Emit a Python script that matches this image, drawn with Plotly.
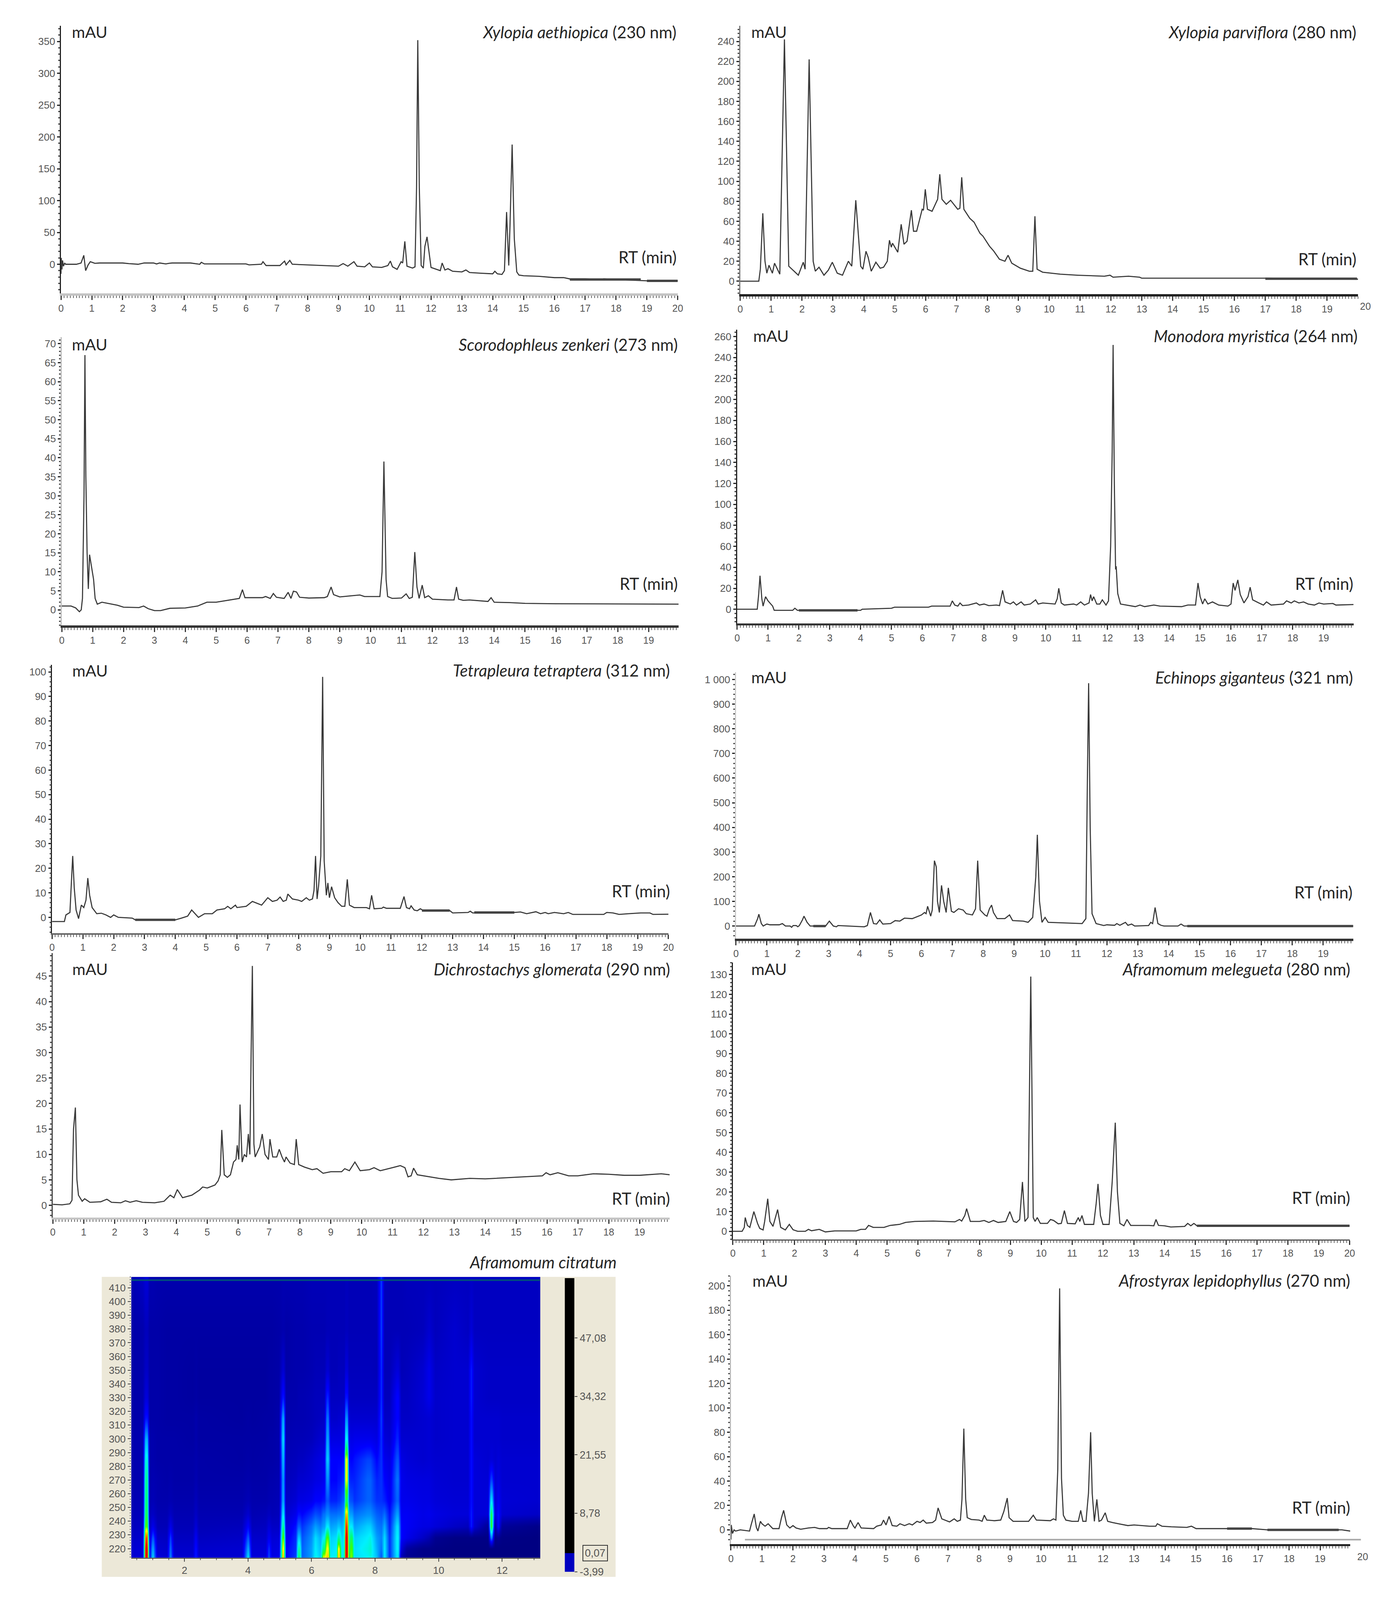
import plotly.graph_objects as go

W, H = 3563, 4240

# ---------------- chromatogram data (retention time, min / absorbance, mAU) ----------------
XA_RT = [0,0.01,0.03,0.05,0.08,0.12,0.15,0.5,0.65,0.74,0.8,0.88,0.95,1.1,1.25,2,2.2,2.5,2.7,3,3.1,3.2,3.4,3.5,3.6,4.2,4.5,4.55,4.65,5,6,6.1,6.5,6.55,6.65,7.1,7.25,7.3,7.42,7.5,8,8.5,9,9.15,9.3,9.5,9.6,9.85,10,10.1,10.4,10.6,10.68,10.75,10.9,11.03,11.08,11.15,11.22,11.4,11.48,11.53,11.57,11.62,11.68,11.75,11.8,11.87,11.95,12,12.3,12.36,12.45,12.55,12.7,13,13.13,13.25,13.6,14,14.07,14.15,14.3,14.38,14.45,14.52,14.56,14.63,14.7,14.78,14.85,15,15.5,16,16.3,16.5,17,17.5,17.6,18,19,20]
XA_MAU = [-15,10,-8,6,-3,2,0,0,2,14,-10,-1,4,1.5,2,2,1,0,2,2,0.5,2,0.5,1.5,2,2,0,3,0.5,0.5,0.5,-1,0,4,-2,-2,5,-1,6,0,-1,-2,-3,1,-3,4,-3,-4,2,-4,-5,-2,5,-4,-8,4,2,36,-3,-6,-4,120,352,120,-2,-6,28,43,15,-5,-10,2,-9,-7,-11,-12,-9,-13,-14,-15,-11,-15,-16,-10,82,-2,60,188,40,-12,-17,-18,-19,-21,-21,-23,-23,-24,-23,-24,-26,-26]

XP_RT = [0,0.6,0.65,0.73,0.8,0.86,0.93,1.04,1.11,1.28,1.43,1.57,1.88,2.04,2.1,2.23,2.36,2.43,2.55,2.71,2.85,2.98,3.14,3.31,3.5,3.61,3.74,3.9,3.97,4.07,4.14,4.24,4.39,4.53,4.64,4.76,4.83,4.89,4.93,5.1,5.21,5.3,5.4,5.54,5.61,5.71,5.89,5.93,5.99,6.06,6.21,6.39,6.46,6.53,6.67,6.81,7.04,7.11,7.17,7.24,7.43,7.57,7.76,7.86,8.07,8.21,8.39,8.57,8.67,8.79,9.07,9.36,9.47,9.54,9.61,9.79,10.36,10.93,11.79,11.97,12.07,12.57,12.93,13,17,20]
XP_MAU = [0,0,12,68,20,8,16,8,18,7,242,15,6,19,12,222,20,10,14,6,11,19,8,6,20,15,81,15,12,30,24,10,19,13,14,20,41,34,38,29,57,37,40,71,50,50,72,71,92,72,70,82,107,82,77,81,72,73,104,72,63,59,48,45,35,30,22,20,26,18,13,10,10,65,12,9,7,6,5,6,4,5,4,3,3,2]

SZ_RT = [0,0.3,0.45,0.57,0.63,0.67,0.72,0.75,0.78,0.82,0.86,0.9,0.95,1.03,1.08,1.15,1.3,1.5,1.8,2,2.5,2.65,2.8,3,3.2,3.5,4,4.4,4.7,5,5.4,5.75,5.85,5.93,6.5,6.6,6.75,6.85,6.95,7.2,7.33,7.42,7.5,7.6,7.7,8,8.5,8.6,8.72,8.8,9,9.3,9.65,9.8,10.2,10.3,10.37,10.43,10.5,10.55,10.7,11,11.15,11.25,11.35,11.43,11.5,11.57,11.67,11.75,11.87,12,12.5,12.7,12.78,12.85,13,13.2,13.8,13.9,14,14.5,15,16,19.97]
SZ_MAU = [1,1,0.5,-0.5,0,3,30,67,35,15,5.5,14.5,12,8,3,1.5,2,1.7,1.2,0.7,0.6,1,0.3,-0.2,-0.2,0.4,0.5,1,2,2,2.5,3,5.3,3.2,3.2,3.5,3,4.3,3.3,3,4.6,3,4.9,4.7,3.3,3.1,3.2,3.5,6,4,3.4,3.6,3.9,3.5,3.5,3.5,10,39,8,3.5,3,3.1,4.2,3,3.3,15.2,6,3,6.5,3.2,3.7,2.8,2.6,2.6,6,2.8,2.5,2.6,2.2,3.2,2,1.9,1.7,1.6,1.5]

MM_RT = [0,0.5,0.65,0.7,0.74,0.8,0.84,0.92,1,1.15,1.2,1.8,1.87,1.95,4,4.05,5,5.1,6.2,6.3,6.9,6.97,7.05,7.15,7.22,7.3,7.5,7.75,7.85,8,8.15,8.4,8.5,8.6,8.68,8.85,8.95,9.05,9.2,9.3,9.5,9.67,9.75,9.9,10.3,10.37,10.42,10.5,10.6,10.9,11,11.13,11.25,11.4,11.45,11.5,11.55,11.65,11.75,11.83,11.95,12.03,12.1,12.15,12.18,12.22,12.26,12.28,12.33,12.42,12.6,12.9,13.05,13.2,13.5,13.7,14.4,14.6,14.85,14.93,15,15.08,15.15,15.25,15.4,15.6,15.9,16,16.07,16.13,16.22,16.3,16.42,16.55,16.62,16.7,16.9,17.05,17.15,17.3,17.7,17.8,17.95,18.05,18.2,18.35,18.5,18.7,18.85,19,19.3,19.4,19.97]
MM_MAU = [0,0,0,15,32,10,3,12,8,3,-1,-1,1,-1,-1,0,1,2,2,3,3,8,4,3,6,3.5,4,6,4,5,3.5,4,3.5,18,7,5,7,4,7,4,5,9,5,6,5,10,20,6,4,5,4,7,4,6,14,8,12,5,5,9,4,8,60,150,252,120,38,41,15,5,4,2.5,4,2.5,4,3,2.5,4,4,25,12,5,10,5,7,4,3,5,25,18,28,14,6,12,21,9,6,4,7,4,5,8,6,8,6,7,5,4,6,5,5.5,4,4.5]

TT_RT = [0,0.4,0.45,0.58,0.63,0.67,0.72,0.78,0.86,0.95,1.03,1.1,1.16,1.22,1.3,1.45,1.6,1.75,1.9,2,2.15,2.6,2.7,4,4.2,4.4,4.53,4.75,4.95,5.2,5.35,5.6,5.7,5.8,5.95,6,6.3,6.5,6.8,7,7.15,7.3,7.4,7.5,7.6,7.65,7.8,8,8.1,8.25,8.35,8.45,8.5,8.55,8.6,8.65,8.72,8.78,8.83,8.9,8.95,9,9.07,9.17,9.28,9.4,9.5,9.58,9.65,9.8,10.2,10.3,10.37,10.45,10.7,10.75,10.85,11.3,11.42,11.5,11.6,11.65,11.75,11.85,11.95,12.05,12.9,13,13.5,13.57,13.65,15,15.2,15.4,15.7,15.85,16,16.1,16.3,16.6,16.75,16.9,17.9,18,18.2,18.4,18.7,19.1,19.4,19.5,20]
TT_MAU = [-1.7,-1.7,1,2,15,25,12,3,-0.5,5,4,7,16,9,4,1.5,1.7,1,0,1,0,-0.3,-1,-1,-0.3,0.5,3,0,1.5,1.5,3,3.5,4.5,3.5,5,4,4.5,6.5,5,8,6.5,7,8.3,6.5,7,9.5,7.5,7,6.5,8,7,7.5,11,25,7.5,13,25,98,23,9,14,8,12.5,8,6,4.5,4.5,15.5,5,4,4,3.5,9,3.5,3.7,4.2,3.7,3.7,8.5,4,3.5,4.7,3,2.7,3.5,2.8,2.8,1.8,2,2.5,1.8,2,2.2,1.5,2.3,1.5,2,1.5,2,1.5,2,1.2,1.2,2,1.8,1.2,1.5,1.8,1.8,1.2,1.3]

EG_RT = [0,0.6,0.7,0.74,0.82,0.88,0.95,1,1.1,1.4,1.5,1.6,1.75,1.8,1.85,1.95,2,2.05,2.15,2.2,2.3,2.4,2.9,3.02,3.15,3.25,3.3,4.15,4.25,4.35,4.45,4.55,4.65,4.75,5,5.15,5.3,5.45,5.7,5.85,6,6.1,6.15,6.2,6.3,6.35,6.42,6.48,6.52,6.58,6.65,6.72,6.8,6.87,6.97,7.05,7.2,7.35,7.45,7.65,7.75,7.82,7.9,8.05,8.12,8.2,8.27,8.33,8.45,8.7,8.85,8.95,9.3,9.45,9.6,9.7,9.75,9.82,9.9,10,10.1,11.2,11.32,11.37,11.41,11.46,11.52,11.65,11.9,12,12.25,12.32,12.42,12.6,12.68,12.8,12.9,13.35,13.42,13.48,13.56,13.65,13.75,13.85,14.3,14.4,14.5,19.97]
EG_MAU = [0,0,30,48,10,0,5,8,5,5,10,0,0,-5,2,2,-3,2,25,40,15,0,0,20,0,-3,2,-3,2,55,10,8,25,8,10,22,20,32,30,38,45,55,50,80,40,65,265,240,100,55,165,100,55,155,60,55,70,65,50,45,70,265,65,45,40,70,85,55,30,30,45,22,20,15,35,200,370,100,15,35,15,10,30,600,985,400,50,10,2,5,3,10,3,15,3,8,0,2,15,10,75,10,3,0,0,8,0,0]

DG_RT = [0,0.3,0.55,0.62,0.67,0.73,0.78,0.83,0.95,1.03,1.2,1.55,1.75,1.9,2.2,2.35,2.5,2.7,2.9,3.3,3.6,3.8,3.92,4.03,4.2,4.5,4.75,4.85,5,5.25,5.35,5.42,5.47,5.55,5.65,5.75,5.85,5.93,5.97,6.02,6.06,6.13,6.2,6.27,6.33,6.38,6.42,6.46,6.51,6.55,6.7,6.78,6.87,6.98,7.03,7.12,7.25,7.33,7.42,7.5,7.55,7.68,7.82,7.88,7.96,8.15,8.4,8.55,8.75,9,9.35,9.45,9.6,9.78,9.95,10.25,10.4,10.6,11,11.25,11.4,11.5,11.6,11.68,11.8,12.5,12.9,13.5,14,15,15.85,15.97,16.1,16.35,16.7,17,17.5,18,18.5,19,19.7,19.97]
DG_MAU = [0.2,0.1,0.3,1,15,19.2,5,2,0.8,1.3,0.6,0.7,1.2,0.6,0.5,0.9,0.6,0.9,0.6,0.5,0.8,2,1.5,3.1,1.5,2,3,3.6,3.4,4,4.8,6,14.8,6,5.5,6,8.5,9,11.8,9,19.8,8.5,10,9.5,14,10,30,47,12,9.5,11.5,14,10,9,13,9.5,9.5,11,9.5,8.5,9.5,8.3,8,13,8,7.5,7,7.2,6.3,6.6,6.6,7.2,6.8,8.5,6.8,7,7.4,6.8,7.4,7.8,7.4,5.6,5.8,7.3,6,5.3,5,5.3,5.2,5.5,5.8,6.4,6,6.4,5.8,5.8,6.2,6.1,5.9,5.9,6.2,6]

AM_RT = [0,0.3,0.37,0.4,0.47,0.55,0.68,0.8,0.87,0.98,1.03,1.13,1.2,1.3,1.45,1.55,1.7,1.83,1.95,2.1,2.35,2.45,2.55,2.8,3,3.3,4,4.15,4.3,4.4,4.55,4.9,5.1,5.4,5.6,5.9,6.5,7,7.2,7.35,7.42,7.52,7.58,7.7,8,8.15,8.3,8.45,8.6,8.85,8.98,9.1,9.2,9.3,9.39,9.47,9.57,9.66,9.74,9.8,9.87,9.97,10.2,10.3,10.4,10.55,10.65,10.75,10.85,11.1,11.2,11.25,11.32,11.4,11.7,11.78,11.84,11.92,12,12.2,12.3,12.4,12.47,12.55,12.68,12.78,12.9,13,13.5,13.65,13.72,13.8,14,14.2,14.65,14.75,14.85,14.95,15.05,20]
AM_MAU = [0,0,2,7,3,2,10,4,1.5,0.7,5,16.5,5,2.5,11,2,0.7,3.5,0.8,0,0,1,0.3,1,-0.3,0.2,0.2,1,1,3,2,2,3,3.5,4.5,5,5.2,5,4.8,6,5.2,8,11.5,5,5,5.5,4.5,5.5,4.5,5,10,5,4.5,6,25,5,7,129,7,5,7,4,4,6,5.5,3.8,4,10.5,4,3.8,7,5,8,3.5,3.5,14,24,8,3.5,3.5,25,55,20,4,2.8,6,3,3,3,2.8,6,3,2.8,2.2,2.5,4,2.8,4,2.8,2.8]

AL_RT = [0,0.01,0.05,0.1,0.15,0.3,0.6,0.65,0.75,0.82,0.87,0.95,1,1.1,1.2,1.35,1.55,1.63,1.7,1.8,1.9,2,2.1,2.25,2.5,2.7,2.85,3.1,3.15,3.25,3.75,3.85,3.95,4,4.1,4.2,4.6,4.7,4.85,4.92,5,5.1,5.2,5.35,5.45,5.6,5.75,5.85,6,6.1,6.2,6.3,6.5,6.6,6.68,6.8,6.95,7.05,7.2,7.3,7.4,7.45,7.51,7.57,7.62,7.75,8,8.1,8.17,8.25,8.5,8.7,8.8,8.91,8.97,9.1,9.6,9.75,9.85,10.3,10.4,10.48,10.54,10.6,10.66,10.72,10.8,11,11.2,11.28,11.35,11.45,11.53,11.6,11.65,11.72,11.8,11.87,11.95,12.07,12.15,12.3,12.5,12.8,13,13.5,13.7,13.75,13.9,14.2,14.7,14.85,15,15.3,16,16.8,17.3,19.7,19.97]
AL_MAU = [-8,4,-3,0,-1,0,-1,4,13,2,-1,7,5,3,5,1,1,10,16,4,1.5,3.5,1.5,0.5,1.5,2,1,1,2,1,1,8,3,1.5,6,1.5,1,3,4,8,4,11,3.5,3,5,3.5,5,4,7,6,8,5.5,6,8,18,9,7.5,6.5,9,7,8,25,83,25,10,8.5,8,7,12,8,7.5,8,15,26,10,7,7,12,8,7.5,9,8,50,198,42,12,8,7,7,16,7,7,30,80,30,7,25,7,8,14,7,6,5,3.5,4,3,3,5,3,2.5,2,3,1,1,1,1,0,0,-1]

# flat stretches that print darker in the originals: (panel, start, end, level)
HEAVY_PANEL = [0,0,1,3,4,4,4,5,5,7,8,8]
HEAVY_START = [16.5,19,17,2,2.7,12,13.7,2.5,14.6,15.05,16,17.3]
HEAVY_END = [18.8,20,19.97,3.9,4,12.9,15,2.9,19.97,20,16.8,19.6]
HEAVY_LEVEL = [-24,-26,2.5,-1,-1,2.8,2,0,0,2.8,1,0]

# ---------------- spectral map data (retention time, wavelength, colour level) ----------------
HEAT_WL = [213,220,228,236,245,255,270,285,300,315,330,350,380,418]
HEAT_RT = [0.33,0.68,0.77,0.83,0.90,1.0,1.15,1.45,1.55,1.68,2.25,2.35,2.45,3.8,4.0,4.12,4.55,4.65,4.75,4.98,5.08,5.12,5.2,5.5,5.58,5.62,5.7,6.0,6.12,6.28,6.36,6.40,6.48,6.52,6.6,6.78,6.83,6.87,6.95,7.03,7.07,7.13,7.17,7.23,7.27,7.35,7.75,7.85,8.05,8.2,8.3,8.45,8.68,8.72,8.82,9.0,9.5,9.7,9.9,10.5,10.93,11.03,11.12,11.55,11.64,11.68,11.78,11.88,12.0,13.2]
HEAT_Z = [
[20,20,18,16,15,14,13,13,13,12,12,12,12,14],
[22,22,20,18,16,15,14,14,14,13,13,13,13,18],
[100,100,95,78,72,70,68,62,52,32,22,18,16,22],
[100,100,95,78,72,70,68,62,52,32,22,18,16,22],
[30,28,22,18,16,14,13,13,13,12,12,12,12,14],
[58,52,42,26,18,15,14,13,13,12,12,12,12,14],
[22,20,18,15,14,13,13,12,12,12,12,12,12,13],
[20,19,17,15,14,13,12,12,12,11,11,11,11,13],
[48,44,38,26,18,14,13,12,12,11,11,11,11,13],
[20,19,17,15,14,13,12,12,12,11,11,11,11,13],
[20,19,17,15,14,13,12,12,11,11,10,10,11,13],
[34,32,28,22,18,16,14,13,13,13,11,11,11,13],
[20,19,17,15,14,13,12,12,11,11,10,10,11,13],
[20,20,18,16,14,13,12,11,11,10,10,10,11,13],
[60,52,42,30,20,15,13,12,11,11,10,10,11,13],
[22,21,19,16,14,13,12,11,11,10,10,10,11,13],
[22,21,19,17,15,13,12,12,11,11,10,10,11,13],
[40,36,28,22,17,14,13,12,12,11,11,11,11,13],
[24,23,21,18,15,14,13,12,12,11,11,11,11,13],
[26,24,22,18,16,15,14,13,13,13,12,12,12,13],
[88,85,78,68,58,50,48,52,56,50,32,20,13,14],
[88,85,78,68,58,50,48,52,56,50,32,20,13,14],
[30,30,27,24,20,18,16,15,14,13,13,12,12,14],
[38,36,35,32,26,21,18,16,15,14,13,13,13,14],
[70,66,55,42,32,24,20,17,15,14,14,13,13,14],
[70,66,55,42,32,24,20,17,15,14,14,13,13,14],
[42,42,40,36,30,24,20,17,15,14,14,13,13,14],
[50,50,48,44,36,26,22,20,16,15,15,14,14,15],
[62,60,58,50,40,30,24,22,18,16,16,15,14,15],
[56,54,52,46,38,30,25,24,20,17,16,15,14,15],
[85,70,60,50,44,32,27,26,20,18,16,15,14,15],
[85,70,60,50,44,32,27,26,20,18,16,15,14,15],
[88,85,78,60,48,40,48,55,50,44,34,20,15,15],
[88,85,78,60,48,40,48,55,50,44,34,20,15,15],
[60,58,56,50,44,34,30,30,24,19,17,15,15,15],
[62,60,58,52,44,34,30,30,24,19,17,15,15,15],
[88,85,68,55,45,36,32,30,24,20,17,16,15,15],
[88,85,68,55,45,36,32,30,24,20,17,16,15,15],
[60,58,56,52,46,40,34,30,25,21,17,16,15,15],
[66,64,62,58,52,44,38,34,28,23,18,16,15,15],
[100,100,100,96,88,72,84,84,60,48,32,22,16,16],
[100,100,100,96,88,72,84,84,60,48,32,22,16,16],
[70,68,64,60,52,44,38,32,26,22,18,16,15,15],
[80,78,72,60,50,40,34,30,25,20,17,16,15,15],
[80,78,72,60,50,40,34,30,25,20,17,16,15,15],
[58,58,56,50,44,36,34,32,26,20,17,16,15,15],
[60,62,60,56,48,42,42,38,26,20,17,16,15,15],
[62,64,62,56,48,42,42,38,26,20,17,16,15,15],
[54,52,50,46,42,36,34,30,24,20,17,15,15,16],
[40,44,46,44,40,36,36,36,36,38,36,36,38,38],
[60,60,58,52,44,34,30,26,22,18,16,15,15,16],
[36,36,36,34,32,28,26,24,20,18,16,15,15,15],
[58,60,60,58,50,42,44,40,34,30,30,22,15,15],
[58,60,60,58,50,42,44,40,34,30,30,22,15,15],
[14,22,30,30,28,26,26,24,20,18,17,15,15,15],
[6,10,26,28,28,26,24,22,20,18,17,16,15,16],
[4,4,18,24,25,24,23,20,20,20,21,20,16,16],
[4,4,14,24,26,24,23,21,21,21,26,26,20,16],
[3,3,6,22,24,22,21,20,19,19,19,18,16,16],
[2,2,3,18,22,21,20,20,20,20,20,20,20,17],
[2,2,3,16,22,21,20,20,20,20,20,20,17,17],
[2,2,3,34,34,32,32,32,32,32,34,34,22,18],
[2,2,3,20,22,22,22,22,20,20,20,20,17,17],
[2,2,3,8,22,22,21,20,20,20,18,18,17,17],
[2,2,45,74,72,58,38,22,20,20,18,18,17,17],
[2,2,45,74,72,58,38,22,20,20,18,18,17,17],
[2,2,3,10,22,21,21,20,20,20,18,18,17,17],
[2,2,6,30,32,28,24,22,20,20,18,18,17,17],
[2,2,3,8,20,21,20,20,19,19,18,18,17,17],
[2,2,2,4,18,20,20,20,19,19,18,18,17,17],
]
HEAT_COLORS = [[0,"#00007a"],[0.12,"#0000a8"],[0.20,"#0000d0"],[0.30,"#0000ff"],[0.40,"#0050ff"],[0.50,"#00a0ff"],[0.60,"#00f0ff"],[0.70,"#00ff80"],[0.78,"#40ff00"],[0.85,"#ffff00"],[0.92,"#ff8000"],[1,"#e00000"]]

BAR_TICKS = [47.08,34.32,21.55,8.78,-3.99]
BAR_LABELS = ["47,08","34,32","21,55","8,78","-3,99"]
BAR_MARK = 0.07
BAR_TOP = 60.15

# ---------------- panel layout ----------------
PANELS = [
 dict(rt=XA_RT,v=XA_MAU,name="Xylopia aethiopica",nm="(230 nm)",px0=150,pxr=1738,xr=20,xend=20,xmaxlab=20,y0=702,ycal=110,vcal=350,bot=779,top=69,major=50,ymaxlab=350,minor=10,ax="#c4c4c4",axw=6,yl="#222",tx=1737,ty=85,mx=176,my=85,rx=1737,ry=683),
 dict(rt=XP_RT,v=XP_MAU,name="Xylopia parviflora",nm="(280 nm)",px0=1899,pxr=3410,xr=19,xend=20,xmaxlab=19,y0=747,ycal=110,vcal=240,bot=781,top=69,major=20,ymaxlab=240,minor=4,ax="#222",axw=6,yl="#777",tx=3488,ty=85,mx=1925,my=85,rx=3488,ry=688,extra=3509),
 dict(rt=SZ_RT,v=SZ_MAU,name="Scorodophleus zenkeri",nm="(273 nm)",px0=152,pxr=1663,xr=19,xend=19.97,xmaxlab=19,y0=1620,ycal=913,vcal=70,bot=1661,top=896,major=5,ymaxlab=70,minor=1,ax="#333",axw=6,yl="#bbb",tx=1740,ty=915,mx=176,my=915,rx=1740,ry=1550),
 dict(rt=MM_RT,v=MM_MAU,name="Monodora myristica",nm="(264 nm)",px0=1891,pxr=3401,xr=19,xend=19.97,xmaxlab=19,y0=1618.5,ycal=894,vcal=260,bot=1656,top=876,major=20,ymaxlab=260,minor=4,ax="#333",axw=5,yl="#222",tx=3491,ty=892,mx=1930,my=892,rx=3480,ry=1550),
 dict(rt=TT_RT,v=TT_MAU,name="Tetrapleura tetraptera",nm="(312 nm)",px0=127,pxr=1714,xr=20,xend=20,xmaxlab=20,y0=2437,ycal=1785,vcal=100,bot=2479,top=1766,major=10,ymaxlab=100,minor=2,ax="#666",axw=4,yl="#222",tx=1720,ty=1781,mx=177,my=1781,rx=1720,ry=2367),
 dict(rt=EG_RT,v=EG_MAU,name="Echinops giganteus",nm="(321 nm)",px0=1888,pxr=3400,xr=19,xend=19.97,xmaxlab=19,y0=2460,ycal=1805,vcal=1000,bot=2494,top=1786,major=100,ymaxlab=1000,minor=20,ax="#333",axw=6,yl="#ccc",tx=3479,ty=1799,mx=1925,my=1799,rx=3477,ry=2370),
 dict(rt=DG_RT,v=DG_MAU,name="Dichrostachys glomerata",nm="(290 nm)",px0=129,pxr=1640,xr=19,xend=19.97,xmaxlab=19,y0=3202,ycal=2593,vcal=45,bot=3234,top=2532,major=5,ymaxlab=45,minor=1,ax="#c4c4c4",axw=5,yl="#444",tx=1720,ty=2574,mx=177,my=2574,rx=1720,ry=3184),
 dict(rt=AM_RT,v=AM_MAU,name="Aframomum melegueta",nm="(280 nm)",px0=1880,pxr=3468,xr=20,xend=20,xmaxlab=20,y0=3271,ycal=2589,vcal=130,bot=3293,top=2557,major=10,ymaxlab=130,minor=2,ax="#555",axw=3,yl="#222",tx=3471,ty=2574,mx=1925,my=2574,rx=3471,ry=3182),
 dict(rt=AL_RT,v=AL_MAU,name="Afrostyrax lepidophyllus",nm="(270 nm)",px0=1875,pxr=3392,xr=19,xend=19.97,xmaxlab=19,y0=4064,ycal=3416,vcal=200,bot=4102,top=3389,major=20,ymaxlab=200,minor=4,ax="#222",axw=5,yl="#bbb",tx=3471,ty=3402,mx=1928,my=3402,rx=3471,ry=4004,extra=3502),
]

INK = "#262626"; TICK = "#555555"; TRACE = "#383838"
TXT_FONT = "Lato"; TICK_FONT = "Liberation Sans"
fx = lambda p: p / W
fy = lambda p: 1 - p / H

fig = go.Figure()
layout = dict(width=W, height=H, margin=dict(l=0, r=0, t=0, b=0, pad=0), paper_bgcolor="white", plot_bgcolor="rgba(0,0,0,0)",
              showlegend=False, annotations=[], shapes=[])

def note(text, x, y, anchor="right", size=42, color=INK, **kw):
    layout["annotations"].append(dict(text=text, xref="paper", yref="paper", x=fx(x), y=fy(y), xanchor=anchor, yanchor="middle",
                                      showarrow=False, font=dict(family=TXT_FONT, size=size, color=color), **kw))

for i, p in enumerate(PANELS, start=1):
    s = "" if i == 1 else str(i)
    fig.add_trace(go.Scatter(x=p["rt"], y=p["v"], mode="lines", line=dict(color=TRACE, width=2.8), xaxis="x"+s, yaxis="y"+s, hoverinfo="skip", cliponaxis=False))
    k = (p["pxr"] - p["px0"]) / p["xr"]
    vpp = p["vcal"] / (p["y0"] - p["ycal"])
    yr = [(p["y0"] - p["bot"]) * vpp, (p["y0"] - p["top"]) * vpp]
    xticks = list(range(0, p["xmaxlab"] + 1))
    yticks = list(range(0, p["ymaxlab"] + 1, p["major"]))
    ylabels = [("1 000" if t == 1000 else str(t)) for t in yticks]
    layout["xaxis"+s] = dict(domain=[fx(p["px0"]), fx(p["px0"] + k * p["xend"])], range=[0, p["xend"]], anchor="y"+s,
        tickvals=xticks, ticktext=[str(t) for t in xticks], ticks="outside", ticklen=11, tickwidth=2.5, tickcolor="#333",
        tickfont=dict(family=TICK_FONT, size=25, color=TICK), showgrid=False, zeroline=False, showline=True, linecolor=p["ax"], linewidth=p["axw"],
        minor=dict(dtick=0.1, tick0=0, ticks="outside", ticklen=6, tickwidth=2, tickcolor="#666"))
    layout["yaxis"+s] = dict(domain=[fy(p["bot"]), fy(p["top"])], range=yr, anchor="x"+s,
        tickvals=yticks, ticktext=ylabels, ticks="outside", ticklen=7, tickwidth=3, tickcolor="#222",
        tickfont=dict(family=TICK_FONT, size=26, color=TICK), showgrid=False, zeroline=False, showline=True, linecolor=p["yl"], linewidth=2.5,
        minor=dict(dtick=p["minor"], tick0=0, ticks="outside", ticklen=4, tickwidth=2.5, tickcolor="#444"))
    note(f"<i>{p['name']}</i> {p['nm']}", p["tx"], p["ty"])
    note("mAU", p["mx"], p["my"], anchor="left", size=41)
    note("RT (min)", p["rx"], p["ry"])
    if "extra" in p:
        note("20", p["extra"], p["bot"] + 33, anchor="center", size=25, color=TICK)
        layout["annotations"][-1]["font"]["family"] = TICK_FONT

for pi, a, b, lvl in zip(HEAVY_PANEL, HEAVY_START, HEAVY_END, HEAVY_LEVEL):
    s = "" if pi == 0 else str(pi + 1)
    fig.add_trace(go.Scatter(x=[a, b], y=[lvl, lvl], mode="lines", line=dict(color="#444444", width=6), xaxis="x"+s, yaxis="y"+s, hoverinfo="skip"))

# lighter baseline above the black axis of the last panel
layout["shapes"].append(dict(type="line", xref="paper", yref="paper", x0=fx(1911), x1=fx(3497), y0=fy(4090), y1=fy(4090), line=dict(color="#a8a8a8", width=4)))

# ---------------- spectral map ----------------
layout["shapes"].append(dict(type="rect", xref="paper", yref="paper", x0=fx(255), x1=fx(1578), y0=fy(3392), y1=fy(4189), fillcolor="#ece8d8", line=dict(width=0), layer="below"))
n = len(PANELS) + 1
fig.add_trace(go.Heatmap(x=HEAT_RT, y=HEAT_WL, z=[list(r) for r in zip(*HEAT_Z)], zmin=0, zmax=100, colorscale=HEAT_COLORS, zsmooth="best", showscale=False, xaxis=f"x{n}", yaxis=f"y{n}", hoverinfo="skip"))
fig.add_trace(go.Scatter(x=[0.33, 13.2], y=[415.6, 415.6], mode="lines", line=dict(color="#00507a", width=4), xaxis=f"x{n}", yaxis=f"y{n}", hoverinfo="skip"))
layout[f"xaxis{n}"] = dict(domain=[fx(331), fx(1384)], range=[0.325, 13.2], anchor=f"y{n}", tickvals=[2,4,6,8,10,12], ticks="outside", ticklen=8, tickwidth=2,
    tickcolor="#444", tickfont=dict(family=TICK_FONT, size=26, color=TICK), showgrid=False, zeroline=False, showline=True, linecolor="#333", linewidth=2,
    minor=dict(dtick=0.5, tick0=0, ticks="outside", ticklen=4, tickwidth=1.5, tickcolor="#666"))
layout[f"yaxis{n}"] = dict(domain=[fy(4138), fy(3392)], range=[213.4, 418], anchor=f"x{n}", tickvals=list(range(220, 411, 10)), ticks="outside", ticklen=8, tickwidth=2,
    tickcolor="#444", tickfont=dict(family=TICK_FONT, size=26, color=TICK), showgrid=False, zeroline=False, showline=False,
    minor=dict(dtick=2, tick0=0, ticks="outside", ticklen=3, tickwidth=1.5, tickcolor="#666"))
note("<i>Aframomum citratum</i>", 1582, 3353)

m = n + 1
fig.add_trace(go.Bar(x=[0], y=[BAR_MARK - BAR_TICKS[-1]], base=[BAR_TICKS[-1]], width=1, marker=dict(color="#0000c0", line=dict(width=0)), xaxis=f"x{m}", yaxis=f"y{m}", hoverinfo="skip"))
fig.add_trace(go.Bar(x=[0], y=[BAR_TOP - BAR_MARK], base=[BAR_MARK], width=1, marker=dict(color="#000000", line=dict(width=0)), xaxis=f"x{m}", yaxis=f"y{m}", hoverinfo="skip"))
layout["barmode"] = "overlay"
layout[f"xaxis{m}"] = dict(domain=[fx(1447), fx(1472)], range=[-0.5, 0.5], anchor=f"y{m}", visible=False)
layout[f"yaxis{m}"] = dict(domain=[fy(4180.3), fy(3395.3)], range=[-4.4, BAR_TOP], anchor=f"x{m}", side="right", tickvals=BAR_TICKS, ticktext=BAR_LABELS, ticks="outside", ticklen=7, tickwidth=2,
    tickcolor="#444", tickfont=dict(family=TICK_FONT, size=27, color=TICK), showgrid=False, zeroline=False, showline=False)
layout["annotations"].append(dict(text="0,07", xref="paper", yref="paper", x=fx(1525), y=fy(4126), xanchor="center", yanchor="middle", showarrow=False,
    font=dict(family=TICK_FONT, size=27, color=TICK), bordercolor="#333", borderwidth=2, borderpad=4, bgcolor="#ece8d8"))

fig.update_layout(**layout)
# the browser's usable page can be shorter than the window: keep the whole figure inside it
FIT = ("document.body.style.margin='0';document.body.style.overflow='hidden';"
       "Plotly.relayout(document.getElementById('{plot_id}'),{width:window.innerWidth,height:window.innerHeight});")
fig.write_html("out.html", config={"displayModeBar": False}, post_script=FIT)
